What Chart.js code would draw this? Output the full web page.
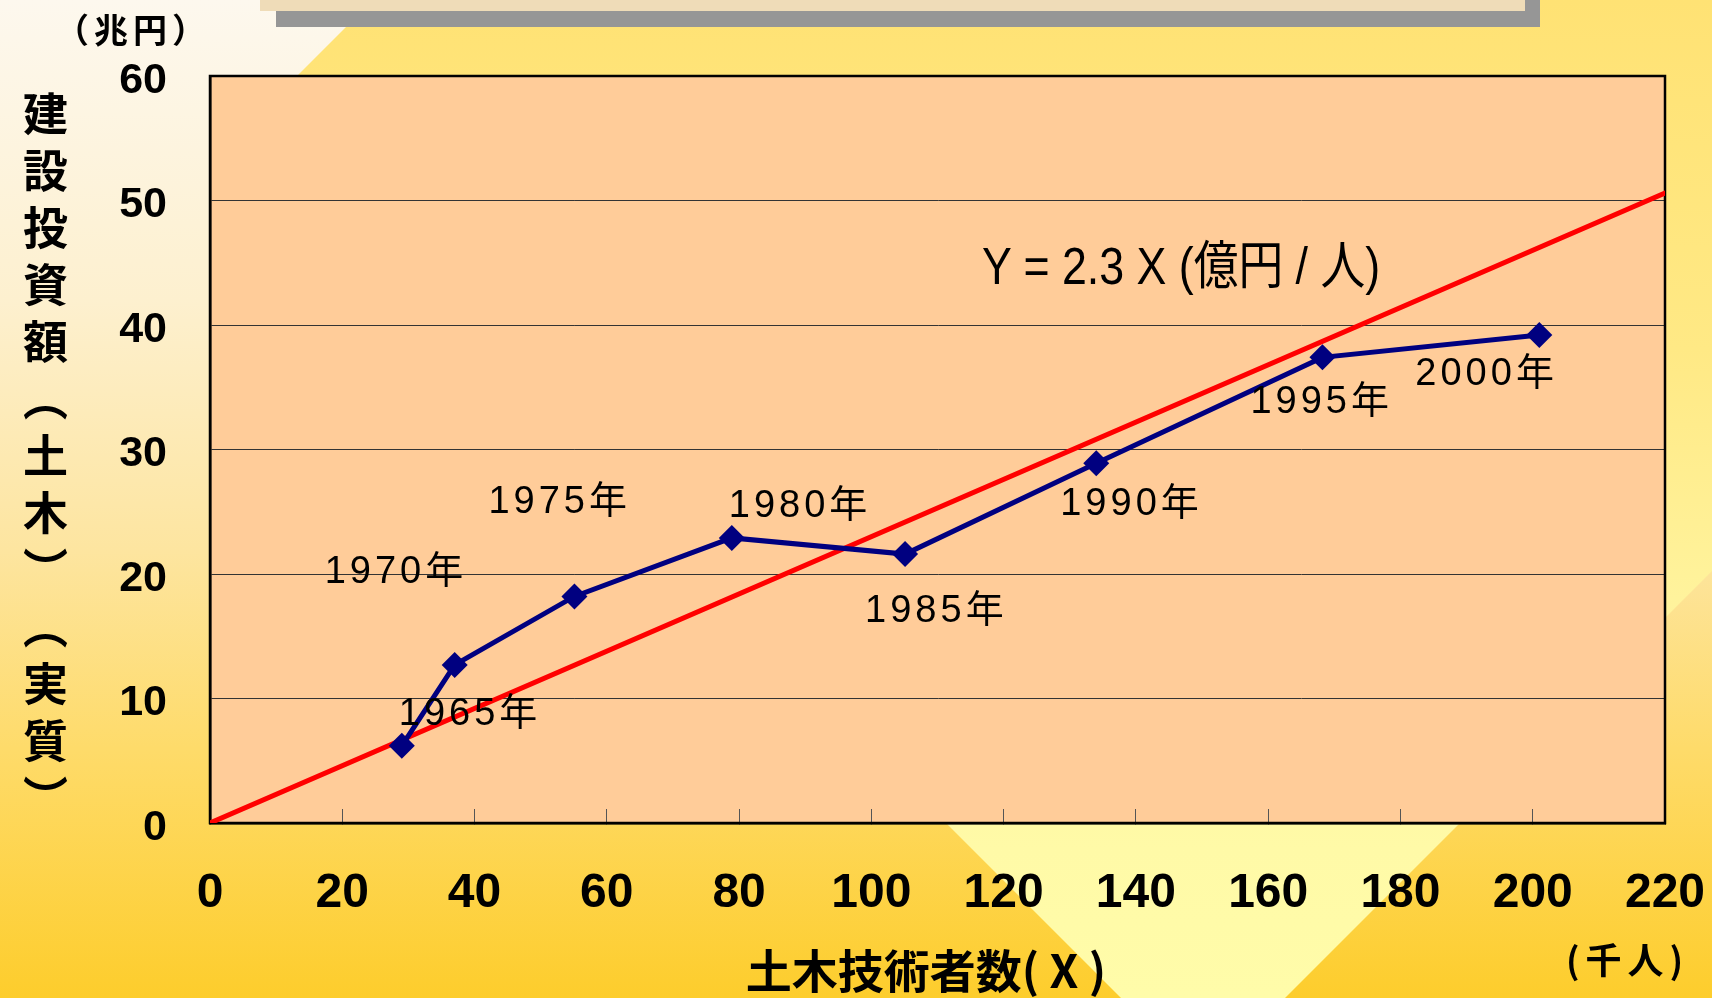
<!DOCTYPE html>
<html lang="ja">
<head>
<meta charset="utf-8">
<title>建設投資額と土木技術者数</title>
<script src="https://cdn.jsdelivr.net/npm/chart.js@4.4.1/dist/chart.umd.min.js"></script>
<style>
  html, body { margin: 0; padding: 0; }
  body {
    width: 1712px; height: 998px; position: relative; overflow: hidden;
    background: linear-gradient(to bottom, #fdf8ee 0%, #fdf0cf 30%, #fde5a0 55%, #fedb6a 75%, #fdcd2c 100%);
  }
  #diamond {
    position: absolute; left: 0; top: 0; width: 1712px; height: 998px;
    clip-path: polygon(248px 125px, 1203px -830px, 2158px 125px, 1203px 1080px);
    background: linear-gradient(to bottom, #ffe274 0%, #ffe985 35%, #fff39c 60%, #fffaa7 85%, #fffca9 100%);
  }
  #shadow { position: absolute; left: 276px; top: 0; width: 1264px; height: 27px; background: #969696; }
  #banner { position: absolute; left: 260px; top: 0; width: 1265px; height: 11px; background: #efdcb8; }
  #chart { position: absolute; left: 0; top: 0; }
  .txt { position: absolute; color: #000; white-space: nowrap; line-height: 1; text-spacing-trim: space-all; }
  #unitY { left: 55px; top: 4px; font: bold 34px "Noto Sans CJK JP", sans-serif; letter-spacing: 5px; }
  #titleY {
    left: 13px; top: 91px; font: bold 45px "Noto Sans CJK JP", sans-serif;
    writing-mode: vertical-rl; letter-spacing: 12px;
  }
  #unitX { left: 1566px; top: 932px; font: bold 36px "Noto Sans CJK JP", sans-serif; letter-spacing: 6px; }
  #formula {
    left: 982px; top: 224px; font: 52px "Liberation Sans", Arial, "Noto Sans CJK JP", sans-serif;
    transform: scaleX(0.86); transform-origin: 0 0;
  }
</style>
</head>
<body>
<div id="diamond"></div>
<div id="shadow"></div>
<div id="banner"></div>
<canvas id="chart" width="1712" height="998"></canvas>
<div class="txt" id="unitY">（兆円）</div>
<div class="txt" id="titleY">建設投資額（土木）（実質）</div>
<div class="txt" id="unitX">(千人)</div>
<div class="txt" id="formula">Y = 2.3 X (億円 / 人)</div>
<script>
// 土木技術者数 (千人) と 建設投資額 (兆円)
var years = ['1965年', '1970年', '1975年', '1980年', '1985年', '1990年', '1995年', '2000年'];
var engineers = [29.0, 37.0, 55.1, 78.9, 105.1, 134.0, 168.2, 201.0];
var investment = [6.2, 12.7, 18.2, 22.9, 21.6, 28.9, 37.4, 39.2];

// Y = 2.3X の直線
var trendX = [0, 220];
var trendY = [0, 50.6];

var xMin = 0, xMax = 220, xStep = 20;
var yMin = 0, yMax = 60, yStep = 10;

// 年ラベルの位置 (点からのずれ, px)
var labelShift = [[-3, -31], [-130, -92], [-86, -94], [-3, -31], [-40, 57], [-36, 41], [-72, 45], [-124, 40]];

var sans = '"Liberation Sans", Arial, "Noto Sans CJK JP", sans-serif';

var plotFrame = {
    id: 'plotFrame',
    beforeDraw: function(chart) {
        var a = chart.chartArea, c = chart.ctx;
        c.save();
        c.fillStyle = '#ffcc99';
        c.fillRect(a.left, a.top, a.right - a.left, a.bottom - a.top);
        c.restore();
    },
    beforeDatasetsDraw: function(chart) {
        var a = chart.chartArea, c = chart.ctx;
        c.save();
        c.strokeStyle = '#000';
        c.lineWidth = 2.5;
        c.strokeRect(a.left, a.top, a.right - a.left, a.bottom - a.top);
        c.restore();
    }
};

var yearLabels = {
    id: 'yearLabels',
    afterDatasetsDraw: function(chart) {
        var meta = chart.getDatasetMeta(1), c = chart.ctx;
        c.save();
        c.font = '38px ' + sans;
        c.fillStyle = '#000';
        c.textAlign = 'left';
        c.textBaseline = 'middle';
        c.letterSpacing = '4px';
        meta.data.forEach(function(pt, i) {
            c.fillText(years[i], pt.x + labelShift[i][0], pt.y + labelShift[i][1]);
        });
        c.restore();
    }
};

var ctx = document.getElementById('chart');
var chart = new Chart(ctx, {
    type: 'scatter',
    data: {
        datasets: [
            {
                label: 'Y = 2.3X',
                data: trendX.map(function(x, i) { return {x: x, y: trendY[i]}; }),
                showLine: true,
                borderColor: '#ff0000',
                borderWidth: 5,
                borderCapStyle: 'round',
                pointRadius: 0,
                pointHoverRadius: 0,
                order: 2
            },
            {
                label: '建設投資額',
                data: engineers.map(function(x, i) { return {x: x, y: investment[i]}; }),
                showLine: true,
                borderColor: '#000080',
                backgroundColor: '#000080',
                borderWidth: 5,
                pointStyle: 'rectRot',
                pointRadius: 13,
                pointHoverRadius: 13,
                pointBorderWidth: 0,
                order: 1
            }
        ]
    },
    options: {
        responsive: false,
        animation: false,
        devicePixelRatio: 1,
        layout: { padding: { left: 80, right: 47, top: 76, bottom: 0 } },
        plugins: {
            legend: { display: false },
            tooltip: { enabled: false }
        },
        scales: {
            x: {
                type: 'linear',
                min: xMin, max: xMax,
                afterFit: function(s) {
                    s.height = 175;
                    s.paddingLeft = 0;
                    s.paddingRight = 0;
                },
                ticks: {
                    stepSize: xStep, autoSkip: false, maxRotation: 0,
                    padding: 56, color: '#000',
                    font: { family: sans, size: 48, weight: 'bold' }
                },
                grid: { drawOnChartArea: false, tickLength: -14, color: '#555', lineWidth: 1 },
                border: { color: '#000', width: 2.5 },
                title: {
                    display: true, text: '土木技術者数( X )\u2002', color: '#000',
                    font: { family: '"Noto Sans CJK JP", sans-serif', size: 46, weight: 'bold' },
                    padding: { top: 0, bottom: 0 }
                }
            },
            y: {
                min: yMin, max: yMax,
                afterFit: function(s) { s.width = 130; },
                ticks: {
                    stepSize: yStep, padding: 43, labelOffset: 5, color: '#000',
                    font: { family: sans, size: 43, weight: 'bold' }
                },
                grid: { drawTicks: false, color: '#333', lineWidth: 1 },
                border: { color: '#000', width: 2.5 }
            }
        }
    },
    plugins: [plotFrame, yearLabels]
});
</script>
</body>
</html>
